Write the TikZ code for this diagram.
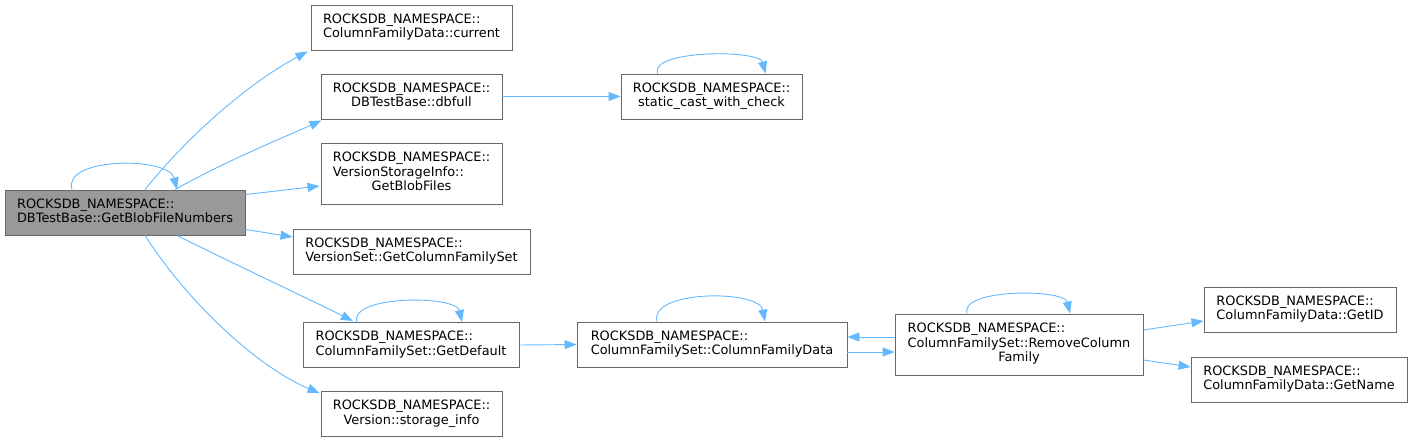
\documentclass[tikz,border=0pt]{standalone}
\usepackage{fontspec}
\setmainfont{DejaVu Sans}
\usetikzlibrary{arrows.meta,calc}
\definecolor{edgeblue}{HTML}{63B8FF}
\definecolor{boxline}{HTML}{666666}
\definecolor{mainfill}{HTML}{999999}
\newcommand{\ns}{ROCKSDB\_NAMESPACE::}
\newcommand{\fnlabel}[2]{\begin{tabular}{@{}l@{}}#1\\\multicolumn{1}{@{}c@{}}{#2}\end{tabular}}

\begin{document}
\begin{tikzpicture}[
  x=1pt, y=1pt,
  font=\fontsize{12.9}{14.5}\selectfont,
  fn/.style={draw=boxline, fill=white, line width=0.9pt, inner sep=0pt, minimum height=45},
  fnmain/.style={fn, fill=mainfill},
  ar/.style={-{Triangle[length=12pt,width=9pt]}, draw=edgeblue, line width=0.9pt},
]
\useasboundingbox (0,0) rectangle (1413,-442);

% caller
\node[fnmain, minimum width=240] (main) at (125,-212.5) {\fnlabel{\ns}{DBTestBase::GetBlobFileNumbers}};

% callees
\node[fn, minimum width=201] (cur)      at (411.5,-27.5) {\fnlabel{\ns}{ColumnFamilyData::current}};
\node[fn, minimum width=181] (dbfull)   at (411.5,-96.5) {\fnlabel{\ns}{DBTestBase::dbfull}};
\node[fn, minimum width=181] (scast)    at (711.5,-96.5) {\fnlabel{\ns}{static\_cast\_with\_check}};
\node[fn, minimum width=181, minimum height=61] (blobf) at (411.5,-173.5) {\fnlabel{\ns\\VersionStorageInfo::}{GetBlobFiles}};
\node[fn, minimum width=237] (cfset)    at (411.5,-251.5) {\fnlabel{\ns}{VersionSet::GetColumnFamilySet}};
\node[fn, minimum width=216] (getdef)   at (411,-345) {\fnlabel{\ns}{ColumnFamilySet::GetDefault}};
\node[fn, minimum width=181] (storinfo) at (411.5,-414) {\fnlabel{\ns}{Version::storage\_info}};
\node[fn, minimum width=270] (cfdata)   at (712,-344.5) {\fnlabel{\ns}{ColumnFamilySet::ColumnFamilyData}};
\node[fn, minimum width=248, minimum height=61] (rmcf) at (1019,-344.5) {\fnlabel{\ns\\ColumnFamilySet::RemoveColumn}{Family}};
\node[fn, minimum width=192] (getid)    at (1300,-309.5) {\fnlabel{\ns}{ColumnFamilyData::GetID}};
\node[fn, minimum width=216] (getname)  at (1299,-379.5) {\fnlabel{\ns}{ColumnFamilyData::GetName}};

% calls from the caller
\draw[ar] ($(main.north)+(-53,0)$) .. controls +(-10,33) and +(-8,33) .. ($(main.north)+(52,0)$);
\draw[ar] ($(main.north)+(20,0)$) .. controls +(40,50) and +(-63,-34) .. ($(cur.south west)+(-3,-1)$);
\draw[ar] ($(main.north)+(50,0)$) .. controls +(50,28) and +(-45,-20) .. ($(dbfull.south west)+(1,-1)$);
\draw[ar] ($(main.north east)+(0,-5)$) -- ($(blobf.west)+(-1,-12.5)$);
\draw[ar] ($(main.south east)+(0,6)$) -- ($(cfset.west)+(0,14.5)$);
\draw[ar] ($(main.south)+(52,0)$) .. controls +(60,-30) and +(-50,25) .. ($(getdef.north)+(-58,1)$);
\draw[ar] ($(main.south)+(20,0)$) .. controls +(45,-70) and +(-60,25) .. ($(storinfo.north west)+(-1,-2)$);

% further calls
\draw[ar] (dbfull.east) -- (scast.west);
\draw[ar] ($(scast.north)+(-54,0)$) .. controls +(-8,24) and +(-6,24) .. ($(scast.north)+(54,0)$);
\draw[ar] ($(getdef.north)+(-54,0)$) .. controls +(-8,27) and +(-6,27) .. ($(getdef.north)+(51,0)$);
\draw[ar] (getdef.east) -- (cfdata.west);
\draw[ar] ($(cfdata.north)+(-55,0)$) .. controls +(-8,32) and +(-6,32) .. ($(cfdata.north)+(53,0)$);
\draw[ar] ($(cfdata.east)+(0,-7.5)$) -- ($(rmcf.west)+(0,-7.5)$);
\draw[ar] ($(rmcf.west)+(0,7.5)$) -- ($(cfdata.east)+(0,7.5)$);
\draw[ar] ($(rmcf.north)+(-52,0)$) .. controls +(-8,25) and +(-6,25) .. ($(rmcf.north)+(51,0)$);
\draw[ar] ($(rmcf.east)+(0,14.5)$) -- ($(getid.west)+(0,-11.5)$);
\draw[ar] ($(rmcf.east)+(0,-15.5)$) -- ($(getname.west)+(0,12.5)$);

\end{tikzpicture}
\end{document}
